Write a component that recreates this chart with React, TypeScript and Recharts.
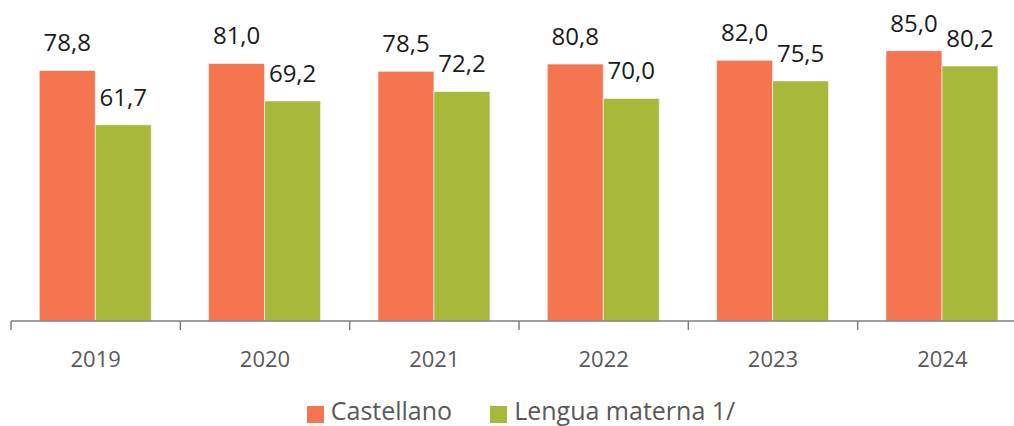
import { BarChart, Bar, XAxis, YAxis, LabelList } from 'recharts';

const years = ['2019', '2020', '2021', '2022', '2023', '2024'];
const castellano = [78.8, 81.0, 78.5, 80.8, 82.0, 85.0];
const lenguaMaterna = [61.7, 69.2, 72.2, 70.0, 75.5, 80.2];

const series = [
  { key: 'castellano', name: 'Castellano', color: '#F47550' },
  { key: 'lengua', name: 'Lengua materna 1/', color: '#A8B83A' },
];

const data = years.map((year, i) => ({
  year,
  castellano: castellano[i],
  lengua: lenguaMaterna[i],
}));

const FONT = '"Open Sans", sans-serif';
const AXIS = '#7f7f7f';

const fmt = (v: any) => Number(v).toFixed(1).replace('.', ',');

// category boundary tick + centered label
const YearTick = (props: any) => {
  const { x, y, payload } = props;
  const half = payload?.offset ?? 0;
  return (
    <g>
      <line x1={x - half} x2={x - half} y1={y} y2={y + 9} stroke={AXIS} strokeWidth={1.5} />
      <text x={x} y={y + 46} textAnchor="middle" fill="#595959" fontSize={22} fontFamily={FONT}>
        {payload.value}
      </text>
    </g>
  );
};

export default function App() {
  return (
    <div style={{ position: 'fixed', left: 0, top: 0, width: 1014, height: 426, overflow: 'hidden', background: '#fff', fontFamily: FONT }}>
      <BarChart
        width={1040}
        height={400}
        data={data}
        margin={{ top: 3, right: 13, left: 11, bottom: 0 }}
        barCategoryGap="16.7%"
        barGap={0}
      >
        <XAxis
          dataKey="year"
          height={79}
          tickSize={0}
          tickMargin={0}
          tickLine={false}
          axisLine={{ stroke: AXIS, strokeWidth: 1.5 }}
          tick={<YearTick />}
          interval={0}
        />
        <YAxis hide domain={[0, 100]} />
        {series.map((s) => (
          <Bar key={s.key} dataKey={s.key} name={s.name} fill={s.color} stroke="#ffffff" strokeWidth={0.6} isAnimationActive={false}>
            <LabelList dataKey={s.key} position="top" offset={19} formatter={fmt} fill="#1a1a1a" fontSize={24} fontFamily={FONT} />
          </Bar>
        ))}
      </BarChart>
      <div style={{ position: 'absolute', top: 398, left: 0, width: 1042, height: 25, display: 'flex', justifyContent: 'center', gap: 38 }}>
        {series.map((s) => (
          <div key={s.key} style={{ display: 'flex', alignItems: 'flex-start', gap: 7 }}>
            <span style={{ display: 'inline-block', width: 17, height: 17, background: s.color, marginTop: 8 }} />
            <span style={{ fontSize: 25, lineHeight: '25px', color: '#595959', whiteSpace: 'nowrap' }}>{s.name}</span>
          </div>
        ))}
      </div>
    </div>
  );
}
